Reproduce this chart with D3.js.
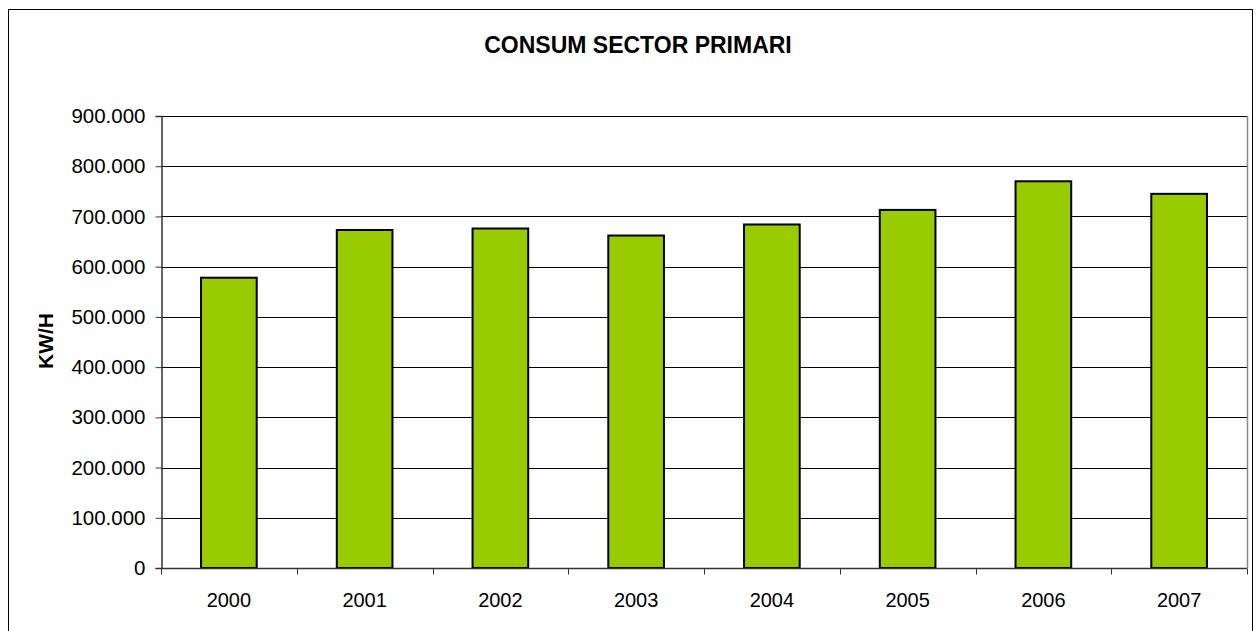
<!DOCTYPE html>
<html>
<head>
<meta charset="utf-8">
<script src="https://cdn.jsdelivr.net/npm/d3@7"></script>
<style>
  html, body { margin: 0; padding: 0; background: #fff; }
  svg { display: block; font-family: "Liberation Sans", Arial, sans-serif; }
</style>
</head>
<body>
<svg id="chart" width="1256" height="631"></svg>
<script>
const years = ["2000", "2001", "2002", "2003", "2004", "2005", "2006", "2007"];
const consum = [578000, 673000, 676000, 662000, 684000, 713000, 770000, 745000];
const yTicks = [0, 100000, 200000, 300000, 400000, 500000, 600000, 700000, 800000, 900000];
const titleText = "CONSUM SECTOR PRIMARI";
const yLabel = "KW/H";

const svg = d3.select("#chart");
const plot = { left: 161, right: 1247, top: 116, bottom: 568 };

// outer border
svg.append("rect")
  .attr("x", 8.5).attr("y", 9.5)
  .attr("width", 1244).attr("height", 640)
  .attr("fill", "none").attr("stroke", "#000").attr("stroke-width", 1);

const x = d3.scaleBand().domain(years).range([plot.left, plot.right]).paddingInner(0.59).paddingOuter(0.295);
const xOuter = d3.scaleBand().domain(years).range([plot.left, plot.right]);
const y = d3.scaleLinear().domain([0, 900000]).range([plot.bottom, plot.top]);

const fmt = v => v === 0 ? "0" : d3.format(",")(v).replace(/,/g, ".");

// gridlines
svg.append("g").selectAll("line").data(yTicks.filter(d => d > 0)).join("line")
  .attr("x1", plot.left).attr("x2", plot.right)
  .attr("y1", d => Math.round(y(d)) + 0.5).attr("y2", d => Math.round(y(d)) + 0.5)
  .attr("stroke", "#000").attr("stroke-width", 1);

// right border of plot
svg.append("line")
  .attr("x1", plot.right + 0.5).attr("x2", plot.right + 0.5)
  .attr("y1", plot.top).attr("y2", plot.bottom)
  .attr("stroke", "#888").attr("stroke-width", 1.5);

// bars
svg.append("g").selectAll("rect").data(years).join("rect")
  .attr("x", d => x(d))
  .attr("width", x.bandwidth())
  .attr("y", (d, i) => y(consum[i]))
  .attr("height", (d, i) => y(0) - y(consum[i]))
  .attr("fill", "#99CC00")
  .attr("stroke", "#000").attr("stroke-width", 2);

// y axis
const yAxis = d3.axisLeft(y).tickValues(yTicks).tickFormat(fmt).tickSize(6).tickPadding(10);
const gy = svg.append("g").attr("transform", `translate(${plot.left + 0.5},0)`).call(yAxis);
gy.select(".domain").attr("stroke", "#333").attr("stroke-width", 1.5);
gy.selectAll(".tick line").attr("stroke", "#333");
gy.selectAll("text").attr("font-size", 20.5).attr("fill", "#000")
  .attr("font-family", "'Liberation Sans', Arial, sans-serif");

// x axis (ticks between categories)
const gx = svg.append("g").attr("transform", `translate(0,${plot.bottom + 0.5})`);
gx.append("line").attr("x1", plot.left).attr("x2", plot.right)
  .attr("stroke", "#333").attr("stroke-width", 1.5);
const bounds = years.map(d => xOuter(d)).concat([plot.right]);
gx.selectAll("line.tk").data(bounds).join("line").attr("class", "tk")
  .attr("x1", d => Math.round(d) + 0.5).attr("x2", d => Math.round(d) + 0.5)
  .attr("y1", 0).attr("y2", 6).attr("stroke", "#333");
gx.selectAll("text").data(years).join("text")
  .attr("x", d => xOuter(d) + xOuter.bandwidth() / 2)
  .attr("y", 38)
  .attr("text-anchor", "middle")
  .attr("font-size", 20).attr("fill", "#000")
  .text(d => d);

// title
svg.append("text")
  .attr("x", 638).attr("y", 53)
  .attr("text-anchor", "middle")
  .attr("font-size", 23).attr("font-weight", "bold")
  .text(titleText);

// y label
svg.append("text")
  .attr("transform", "translate(53,341) rotate(-90)")
  .attr("text-anchor", "middle")
  .attr("font-size", 21).attr("font-weight", "bold")
  .text(yLabel);
</script>
</body>
</html>
